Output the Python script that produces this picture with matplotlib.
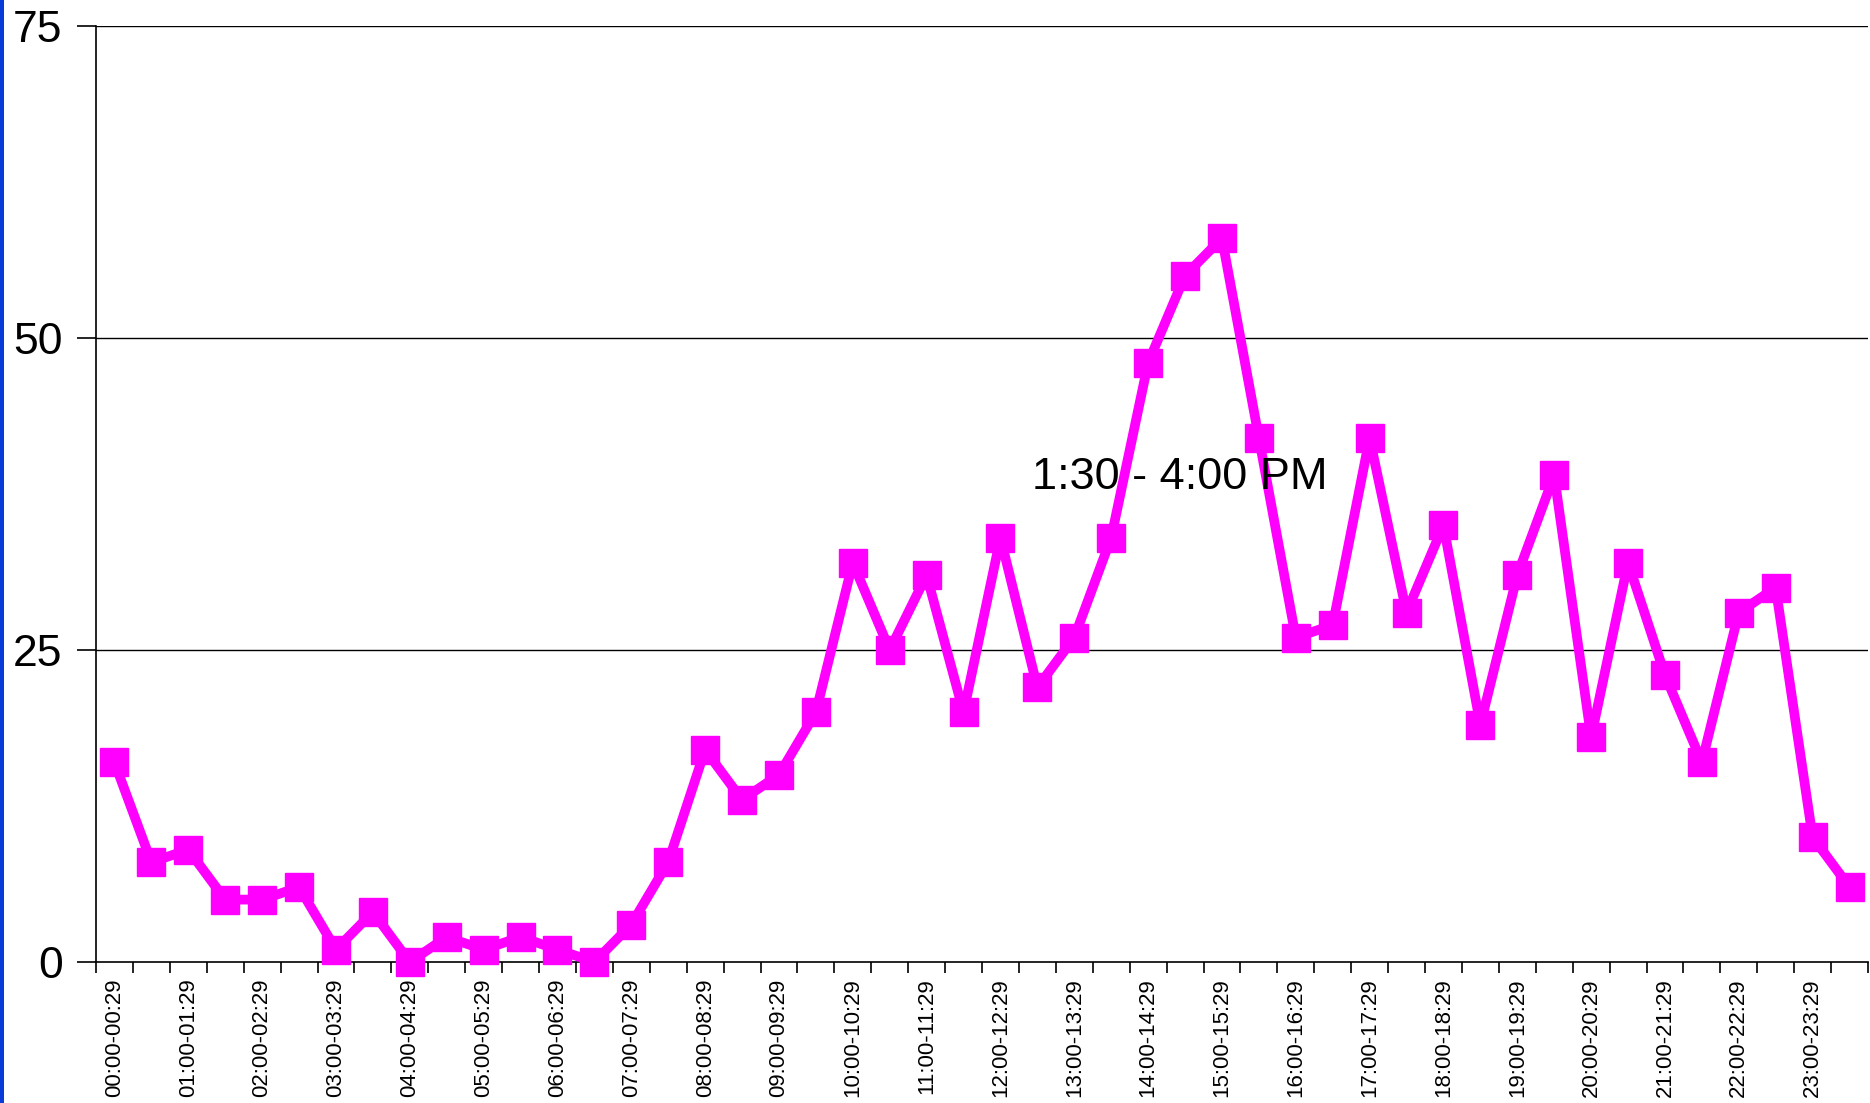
import matplotlib
matplotlib.use("Agg")
import matplotlib.pyplot as plt
from matplotlib.patches import Rectangle

plt.rcParams['font.family'] = ['Liberation Sans', 'DejaVu Sans']

categories = []
for h in range(24):
    categories.append(f"{h:02d}:00-{h:02d}:29")
    categories.append(f"{h:02d}:30-{h:02d}:59")

values = [16, 8, 9, 5, 5, 6, 1, 4, 0, 2, 1, 2, 1, 0, 3, 8,
          17, 13, 15, 20, 32, 25, 31, 20, 34, 22, 26, 34, 48, 55, 58, 42,
          26, 27, 42, 28, 35, 19, 31, 39, 18, 32, 23, 16, 28, 30, 10, 6]
yticks = [0, 25, 50, 75]
annotation = "1:30 - 4:00 PM"

fig = plt.figure(figsize=(18.70, 11.03), dpi=100)
ax = fig.add_axes([96/1870, 1 - 962/1103, (1868-96)/1870, (962-26)/1103])

x = list(range(len(values)))
ax.plot(x, values, color='#FF00FF', lw=7, marker='s', ms=20.5,
        markeredgecolor='#FF00FF', markerfacecolor='#FF00FF', clip_on=False, zorder=3)

ax.set_xlim(-0.5, len(values) - 0.5)
ax.set_ylim(0, 75)
ax.set_yticks(yticks)
ax.set_yticklabels([str(v) for v in yticks], fontsize=32)
for v in yticks[1:]:
    ax.axhline(v, color='black', lw=1.0, zorder=1)

ax.set_xticks(x[::2])
ax.set_xticklabels(categories[::2], rotation=90, fontsize=16, va='top', ha='center')
ax.set_xticks([i - 0.5 for i in range(len(values) + 1)], minor=True)
ax.tick_params(axis='x', which='major', length=0, pad=12)
ax.tick_params(axis='x', which='minor', length=8, width=1.2, direction='out')
ax.tick_params(axis='y', which='major', length=14, width=1.2, direction='out', pad=10)

for s in ['top', 'right']:
    ax.spines[s].set_visible(False)
for s in ['left', 'bottom']:
    ax.spines[s].set_linewidth(1.2)

ax.text(28.86, 38.8, annotation, fontsize=32.5, ha='center', va='center', zorder=4)

fig.add_artist(Rectangle((0, 0), 4/1870, 1, transform=fig.transFigure,
                         facecolor='#0A3AD8', edgecolor='none'))

fig.savefig('out.png', dpi=100, facecolor='white')
